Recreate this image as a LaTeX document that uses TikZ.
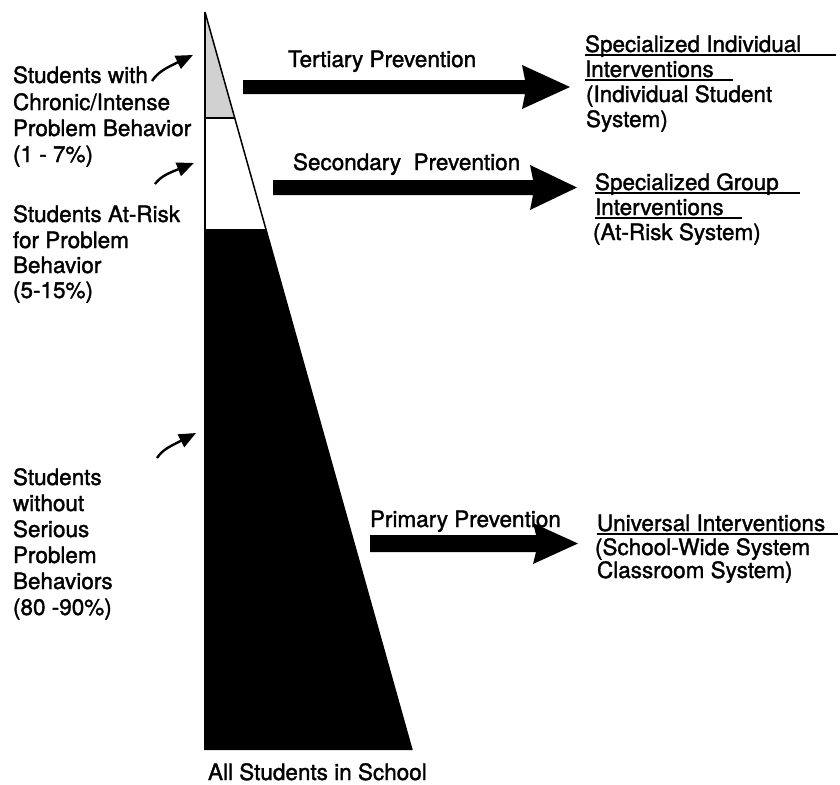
\documentclass[tikz,border=0pt]{standalone}
\usepackage{fontspec}
\setmainfont{TeX Gyre Heros}
\newfontfamily\lblfont[FakeBold=1.5]{TeX Gyre Heros}
\usetikzlibrary{arrows.meta}
\begin{document}
\begin{tikzpicture}[x=1pt,y=-1pt,
  every node/.style={inner sep=0pt,outer sep=0pt,font=\lblfont\fontsize{22.5}{26}\selectfont},
  lbl/.style={anchor=base west},
  ul/.style={line width=1.5pt},
  bigarrow/.style={fill=black},
  curvy/.style={line width=2.4pt,-{Triangle[length=17pt,width=14pt]}}]
\useasboundingbox (0,0) rectangle (840,784);
% pyramid
\coordinate (apex) at (205,12);
\coordinate (bl) at (205,750);
\coordinate (br) at (412,750);
\fill[black!18] (205,14) -- (234.7,118) -- (205,118) -- cycle;
\fill[black] (205,229) -- (265.9,229) -- (412,750) -- (205,750) -- cycle;
\draw[line width=2.2pt] (bl) -- (apex);
\draw[line width=1.5pt] (apex) -- (br);
\draw[line width=1.6pt] (205,118) -- (234.7,118);
% left labels
\node[lbl] (a1) at (13,83) {Students with};
\node[lbl] (a2) at (13,110) {Chronic/Intense};
\node[lbl] (a3) at (13,136) {Problem Behavior};
\node[lbl] (a4) at (13,162) {(1 - 7\%)};
\node[lbl] (b1) at (13,222) {Students At-Risk};
\node[lbl] (b2) at (13,248) {for Problem};
\node[lbl] (b3) at (13,273) {Behavior};
\node[lbl] (b4) at (13,298) {(5-15\%)};
\node[lbl] (c1) at (13,485) {Students};
\node[lbl] (c2) at (13,511) {without};
\node[lbl] (c3) at (13,537) {Serious};
\node[lbl] (c4) at (13,563) {Problem};
\node[lbl] (c5) at (13,589) {Behaviors};
\node[lbl] (c6) at (13,615) {(80 -90\%)};
\node[lbl] (all) at (208,780) {All Students in School};
% small curved arrows
\coordinate (p1s) at (152,81); \coordinate (p1e) at (193,55);
\coordinate (p2s) at (155,184); \coordinate (p2e) at (194,163);
\coordinate (p3s) at (157,458); \coordinate (p3e) at (196,433);
\draw[curvy] (p1s) .. controls (158,72) and (166,68) .. (p1e);
\draw[curvy] (p2s) .. controls (161,176) and (169,173) .. (p2e);
\draw[curvy] (p3s) .. controls (163,449) and (171,446) .. (p3e);
% big arrows
\fill[bigarrow] (243,80) -- (525,80) -- (522,65) -- (570,87) -- (522,109) -- (525,94) -- (243,94) -- cycle;
\fill[bigarrow] (273,180) -- (533,180) -- (530,165) -- (577,187.5) -- (530,210) -- (533,195) -- (273,195) -- cycle;
\fill[bigarrow] (370,535) -- (536,535) -- (533,523) -- (578,543.5) -- (533,564) -- (536,552) -- (370,552) -- cycle;
\node[lbl] (tp) at (288,67) {Tertiary Prevention};
\node[lbl] (sp) at (293,170) {Secondary~ Prevention};
\node[lbl] (pp) at (370,527) {Primary Prevention};
% right texts
\node[lbl] (t1) at (585,52) {Specialized Individual};
\node[lbl] (t2) at (585,77) {Interventions};
\node[lbl] (t3) at (586,102) {(Individual Student};
\node[lbl] (t4) at (586,127) {System)};
\draw[ul] (585,55) -- (836,55);
\draw[ul] (585,80) -- (733,80);
\node[lbl] (g1) at (595,190) {Specialized Group};
\node[lbl] (g2) at (595,215) {Interventions};
\node[lbl] (g3) at (593,240) {(At-Risk System)};
\draw[ul] (595,193) -- (800,193);
\draw[ul] (595,218) -- (742,218);
\node[lbl] (u1) at (597,531) {Universal Interventions};
\node[lbl] (u2) at (595,555) {(School-Wide System};
\node[lbl] (u3) at (597,578) {Classroom System)};
\draw[ul] (597,534) -- (838,534);
\end{tikzpicture}
\end{document}
